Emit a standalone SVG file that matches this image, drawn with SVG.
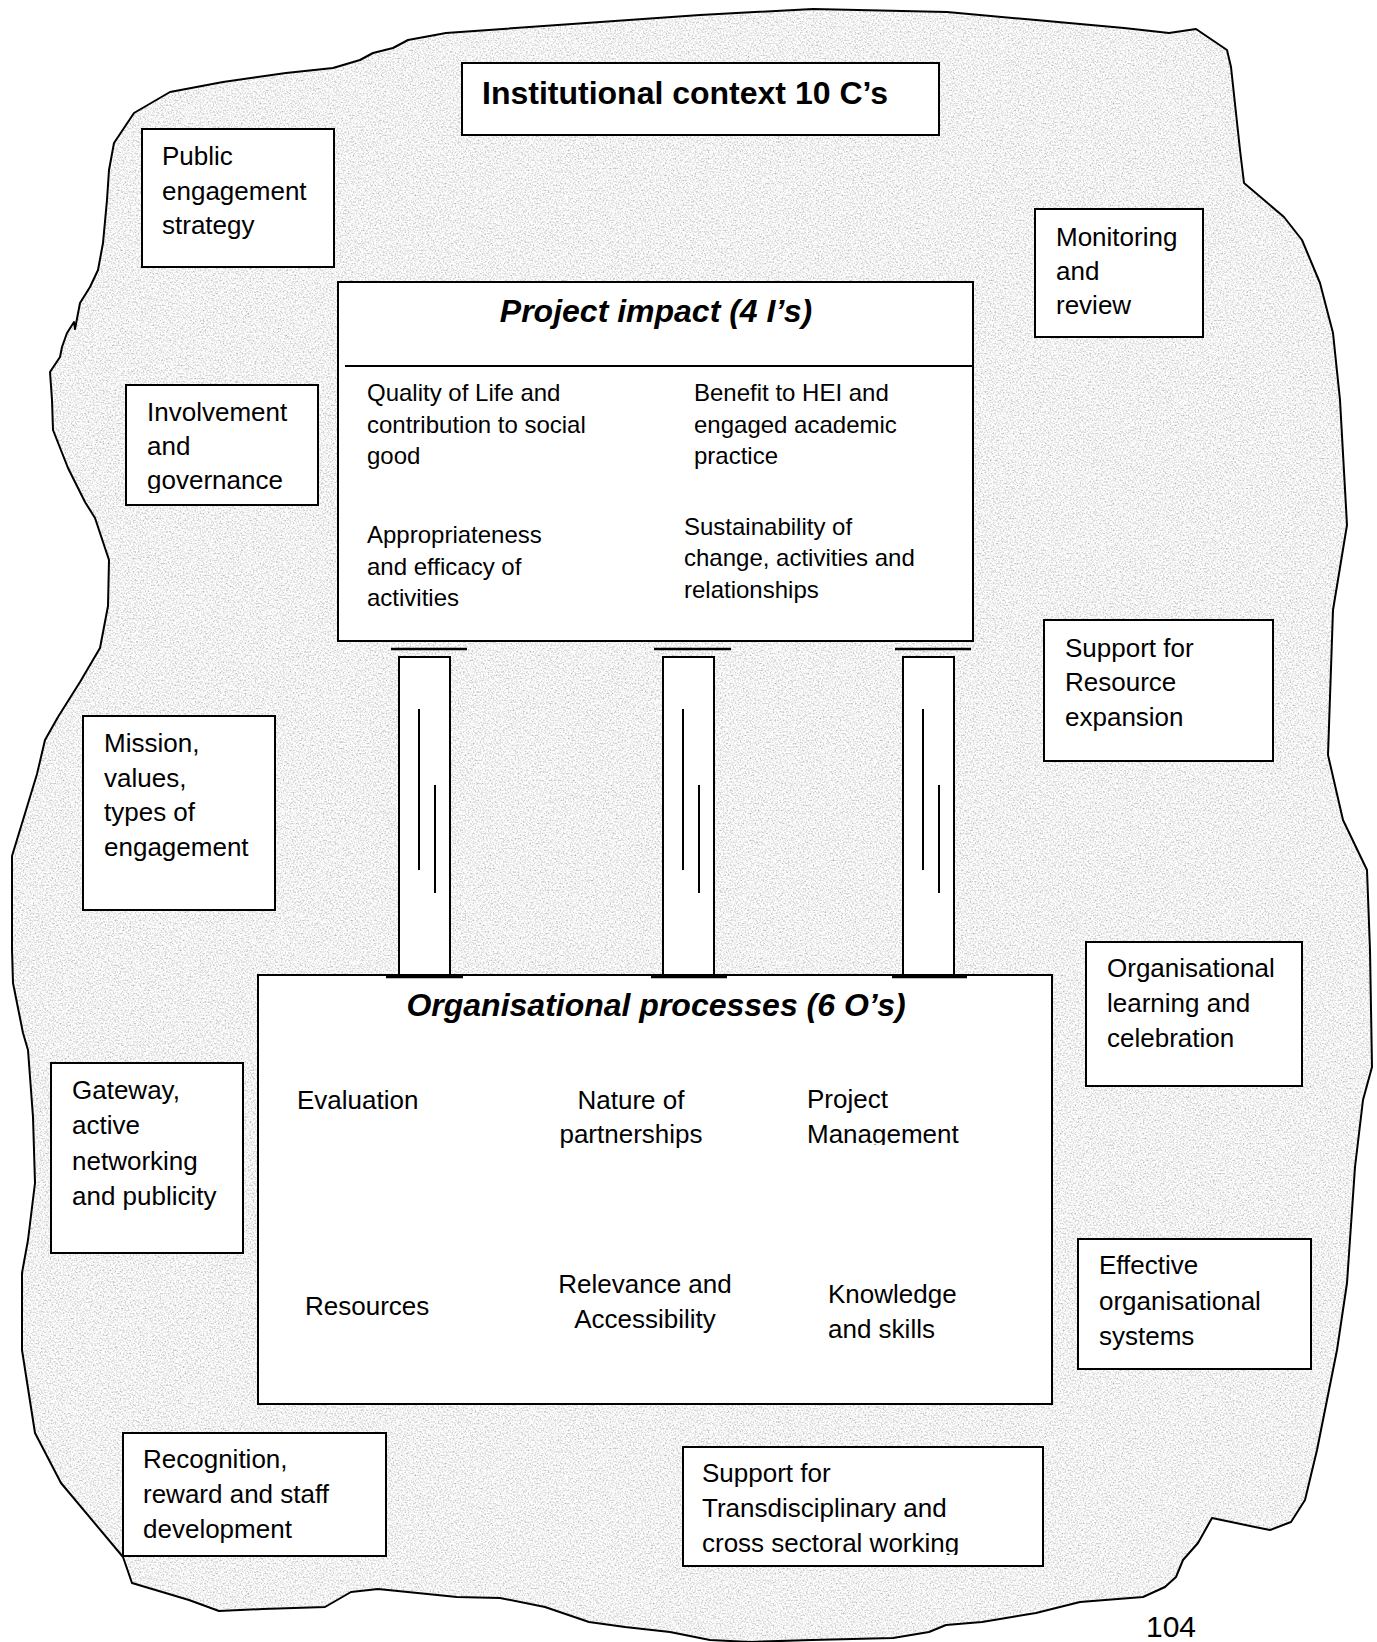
<svg xmlns="http://www.w3.org/2000/svg" width="1377" height="1642" viewBox="0 0 1377 1642">
<style>
.box{fill:#fff;stroke:#000;stroke-width:2}
.t{font-family:"Liberation Sans",Arial,sans-serif;font-size:26px;fill:#000}
.s{font-size:24px}
.h{font-weight:bold;font-size:32px}
.hi{font-weight:bold;font-style:italic;font-size:32px}
.m{text-anchor:middle}
.pl{fill:#fff;stroke:#000;stroke-width:2}
.ln{stroke:#000;stroke-width:2;fill:none}
.cap{stroke:#000;stroke-width:2.5;fill:none}
</style>
<defs>
<path id="blobPath" d="M170,92 L223,82 L286,73 L333,68 L360,60 L373,53 L393,48 L408,40 L446,33 L700,15 L813,9 L947,12 L1036,20 L1124,28 L1169,33 L1196,29 L1227,50 L1231,67 L1240,150 L1244,183 L1284,217 L1302,240 L1320,283 L1333,333 L1340,400 L1347,525 L1333,610 L1328,755 L1343,820 L1367,870 L1370,950 L1372,1067 L1363,1100 L1355,1167 L1347,1283 L1337,1350 L1317,1450 L1305,1500 L1291,1522 L1270,1530 L1255,1527 L1212,1518 L1198,1543 L1183,1560 L1176,1577 L1165,1587 L1143,1597 L1080,1602 L1036,1613 L982,1622 L946,1625 L929,1632 L893,1638 L812,1640 L750,1642 L710,1640 L670,1632 L625,1627 L589,1622 L545,1607 L500,1598 L457,1597 L378,1589 L351,1592 L325,1607 L263,1609 L219,1611 L189,1600 L132,1583 L123,1557 L61,1483 L35,1433 L22,1350 L22,1273 L28,1240 L35,1183 L33,1117 L28,1050 L23,1033 L13,983 L12,950 L12,856 L23,820 L37,774 L45,740 L58,717 L80,682 L100,648 L108,606 L109,560 L95,518 L85,502 L68,468 L53,430 L52,400 L50,372 L60,357 L62,347 L67,333 L74,322 L75,329 L80,303 L90,287 L98,270 L103,243 L107,200 L109,170 L114,143 L134,113 Z"/>
<clipPath id="blobClip"><use href="#blobPath"/></clipPath>
<clipPath id="cGov"><rect x="120" y="380" width="200" height="113"/></clipPath>
<clipPath id="cMan"><rect x="780" y="1080" width="200" height="65"/></clipPath>
<clipPath id="cWork"><rect x="690" y="1450" width="350" height="105"/></clipPath>
<filter id="grain" filterUnits="userSpaceOnUse" x="0" y="0" width="1377" height="1642">
<feTurbulence type="fractalNoise" baseFrequency="0.6" numOctaves="3" seed="7"/>
<feColorMatrix type="matrix" values="1.1 0 0 0 0.34  1.1 0 0 0 0.34  1.1 0 0 0 0.34  0 0 0 0 1"/>
</filter>
</defs>
<rect width="1377" height="1642" fill="#fff"/>
<g id="background">
<rect x="0" y="0" width="1377" height="1642" filter="url(#grain)" clip-path="url(#blobClip)"/>
<use href="#blobPath" fill="none" stroke="#000" stroke-width="2" stroke-linejoin="round"/>
</g>
<g id="connectors">
<g id="pillar1">
<line class="cap" x1="391" y1="649" x2="467" y2="649"/>
<rect class="pl" x="399" y="657" width="51" height="319"/>
<line class="ln" x1="419" y1="709" x2="419" y2="870"/>
<line class="ln" x1="435" y1="785" x2="435" y2="893"/>
</g>
<g id="pillar2">
<line class="cap" x1="654" y1="649" x2="731" y2="649"/>
<rect class="pl" x="663" y="657" width="51" height="319"/>
<line class="ln" x1="683" y1="709" x2="683" y2="870"/>
<line class="ln" x1="699" y1="785" x2="699" y2="893"/>
</g>
<g id="pillar3">
<line class="cap" x1="895" y1="649" x2="971" y2="649"/>
<rect class="pl" x="903" y="657" width="51" height="319"/>
<line class="ln" x1="923" y1="709" x2="923" y2="870"/>
<line class="ln" x1="939" y1="785" x2="939" y2="893"/>
</g>
</g>
<g id="title">
<rect class="box" x="462" y="63" width="477" height="72"/>
<text class="t h" x="482" y="104">Institutional context 10 C’s</text>
</g>
<g id="public-engagement">
<rect class="box" x="142" y="129" width="192" height="138"/>
<text class="t" x="162" y="165">Public</text>
<text class="t" x="162" y="200">engagement</text>
<text class="t" x="162" y="234">strategy</text>
</g>
<g id="monitoring">
<rect class="box" x="1035" y="209" width="168" height="128"/>
<text class="t" x="1056" y="246">Monitoring</text>
<text class="t" x="1056" y="280">and</text>
<text class="t" x="1056" y="314">review</text>
</g>
<g id="involvement">
<rect class="box" x="126" y="385" width="192" height="120"/>
<g clip-path="url(#cGov)">
<text class="t" x="147" y="421">Involvement</text>
<text class="t" x="147" y="455">and</text>
<text class="t" x="147" y="489">governance</text>
</g>
</g>
<g id="project-impact">
<rect class="box" x="338" y="282" width="635" height="359"/>
<line class="ln" x1="345" y1="366" x2="973" y2="366"/>
<text class="t hi m" x="656" y="322">Project impact (4 I’s)</text>
<text class="t s" x="367" y="401">Quality of Life and</text>
<text class="t s" x="367" y="433">contribution to social</text>
<text class="t s" x="367" y="464">good</text>
<text class="t s" x="694" y="401">Benefit to HEI and</text>
<text class="t s" x="694" y="433">engaged academic</text>
<text class="t s" x="694" y="464">practice</text>
<text class="t s" x="367" y="543">Appropriateness</text>
<text class="t s" x="367" y="575">and efficacy of</text>
<text class="t s" x="367" y="606">activities</text>
<text class="t s" x="684" y="535">Sustainability of</text>
<text class="t s" x="684" y="566">change, activities and</text>
<text class="t s" x="684" y="598">relationships</text>
</g>
<g id="mission">
<rect class="box" x="83" y="716" width="192" height="194"/>
<text class="t" x="104" y="752">Mission,</text>
<text class="t" x="104" y="787">values,</text>
<text class="t" x="104" y="821">types of</text>
<text class="t" x="104" y="856">engagement</text>
</g>
<g id="support-resource">
<rect class="box" x="1044" y="620" width="229" height="141"/>
<text class="t" x="1065" y="657">Support for</text>
<text class="t" x="1065" y="691">Resource</text>
<text class="t" x="1065" y="726">expansion</text>
</g>
<g id="organisational-learning">
<rect class="box" x="1086" y="942" width="216" height="144"/>
<text class="t" x="1107" y="977">Organisational</text>
<text class="t" x="1107" y="1012">learning and</text>
<text class="t" x="1107" y="1047">celebration</text>
</g>
<g id="organisational-processes">
<rect class="box" x="258" y="975" width="794" height="429"/>
<line class="cap" x1="386" y1="977" x2="463" y2="977"/>
<line class="cap" x1="651" y1="977" x2="727" y2="977"/>
<line class="cap" x1="892" y1="977" x2="967" y2="977"/>
<text class="t hi m" x="656" y="1016">Organisational processes (6 O’s)</text>
<text class="t" x="297" y="1109">Evaluation</text>
<text class="t m" x="631" y="1109">Nature of</text>
<text class="t m" x="631" y="1143">partnerships</text>
<text class="t" x="807" y="1108">Project</text>
<g clip-path="url(#cMan)"><text class="t" x="807" y="1143">Management</text></g>
<text class="t" x="305" y="1315">Resources</text>
<text class="t m" x="645" y="1293">Relevance and</text>
<text class="t m" x="645" y="1328">Accessibility</text>
<text class="t" x="828" y="1303">Knowledge</text>
<text class="t" x="828" y="1338">and skills</text>
</g>
<g id="gateway">
<rect class="box" x="51" y="1063" width="192" height="190"/>
<text class="t" x="72" y="1099">Gateway,</text>
<text class="t" x="72" y="1134">active</text>
<text class="t" x="72" y="1170">networking</text>
<text class="t" x="72" y="1205">and publicity</text>
</g>
<g id="effective-systems">
<rect class="box" x="1078" y="1239" width="233" height="130"/>
<text class="t" x="1099" y="1274">Effective</text>
<text class="t" x="1099" y="1310">organisational</text>
<text class="t" x="1099" y="1345">systems</text>
</g>
<g id="recognition">
<rect class="box" x="123" y="1433" width="263" height="123"/>
<text class="t" x="143" y="1468">Recognition,</text>
<text class="t" x="143" y="1503">reward and staff</text>
<text class="t" x="143" y="1538">development</text>
</g>
<g id="transdisciplinary">
<rect class="box" x="683" y="1447" width="360" height="119"/>
<text class="t" x="702" y="1482">Support for</text>
<text class="t" x="702" y="1517">Transdisciplinary and</text>
<g clip-path="url(#cWork)"><text class="t" x="702" y="1552">cross sectoral working</text></g>
</g>
<g id="page-number">
<text class="t" x="1146" y="1637" style="font-size:30px">104</text>
</g>
</svg>
